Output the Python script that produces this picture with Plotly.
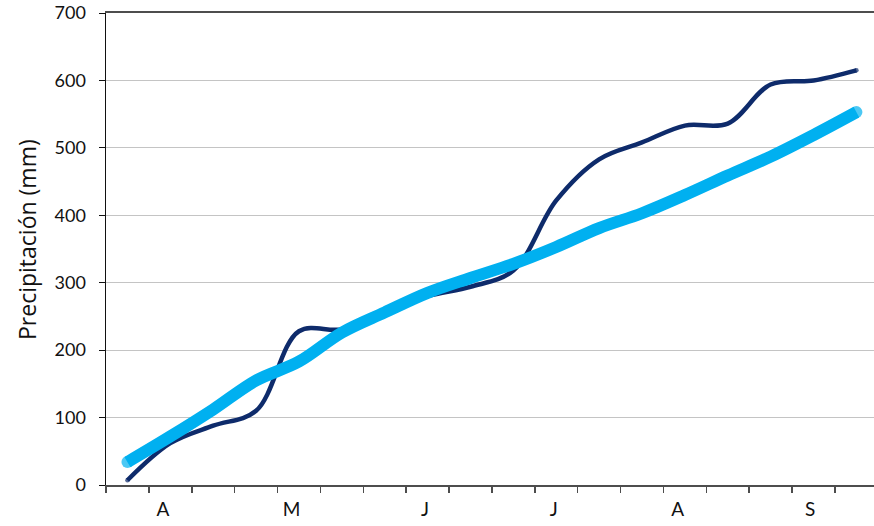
import plotly.graph_objects as go

months = ["A", "M", "J", "J", "A", "S"]
decades = list(range(18))  # three 10-day periods per month, April..September

observed = [7, 62, 88, 110, 228, 231, 256, 280, 294, 318, 422, 483, 508, 533, 536, 594, 600, 615]
normal = [34, 72, 112, 155, 183, 226, 256, 285, 307, 328, 353, 381, 403, 430, 459, 487, 519, 553]

y_ticks = [0, 100, 200, 300, 400, 500, 600, 700]
y_title = "Precipitación (mm)"

DARK = "#0e2b6b"
LIGHT = "#00b0f0"
FONT = "Lato"

def cap_sizes(n, w):
    s = [0] * n
    s[0] = w
    s[-1] = w
    return s

fig = go.Figure()
fig.add_trace(go.Scatter(
    x=decades, y=observed, mode="lines+markers",
    line=dict(color=DARK, width=4.5, shape="spline", smoothing=1.0),
    marker=dict(color=DARK, size=cap_sizes(len(observed), 4.5), line=dict(width=0)),
    showlegend=False, hoverinfo="skip",
))
fig.add_trace(go.Scatter(
    x=decades, y=normal, mode="lines+markers",
    line=dict(color=LIGHT, width=12, shape="spline", smoothing=1.0),
    marker=dict(color=LIGHT, size=cap_sizes(len(normal), 12), line=dict(width=0)),
    showlegend=False, hoverinfo="skip",
))

label_shift = [-0.17, -0.17, -0.06, -0.06, -0.17, -0.08]
month_pos = [1 + 3 * i + label_shift[i] for i in range(len(months))]

fig.update_layout(
    width=874, height=526,
    margin=dict(l=106, r=0, t=13, b=41),
    paper_bgcolor="white", plot_bgcolor="white",
    font=dict(family=FONT, size=18, color="#111111"),
    xaxis=dict(
        range=[-0.5, 17.41],
        tickmode="array", tickvals=month_pos, ticktext=months,
        ticks="", showgrid=False, zeroline=False,
        showline=True, linecolor="#4d4d4d", linewidth=2, mirror=True,
        tickfont=dict(family=FONT, size=19),
        ticklabelstandoff=6,
        minor=dict(tickmode="array", tickvals=[k - 0.5 for k in range(19)],
                   ticks="outside", ticklen=6, tickcolor="#4d4d4d", tickwidth=1.5,
                   showgrid=False),
    ),
    yaxis=dict(
        range=[0, 700],
        tickmode="array", tickvals=y_ticks, ticktext=[str(v) for v in y_ticks],
        ticks="outside", ticklen=6, tickcolor="#111111", tickwidth=1,
        showline=True, linecolor="#111111", linewidth=1.5,
        showgrid=True, gridcolor="#c4c4c4", gridwidth=1.2,
        zeroline=False,
        tickfont=dict(family=FONT, size=18),
        ticklabelstandoff=9,
        ticklabeloverflow="allow",
    ),
    annotations=[dict(
        text=y_title, xref="paper", yref="paper", x=-0.103, y=0.521,
        xanchor="center", yanchor="middle", textangle=-90, showarrow=False,
        font=dict(family="Open Sans", size=23, color="#111111"),
    )],
)

fig.write_html(
    "out.html",
    config={"displayModeBar": False, "staticPlot": True},
    post_script="document.body.style.margin='0';document.body.style.overflow='hidden';",
)
